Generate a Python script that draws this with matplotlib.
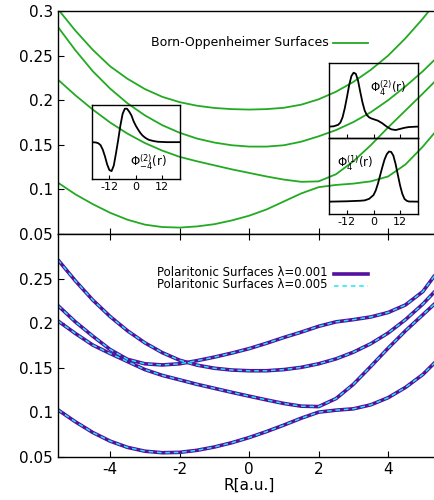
import numpy as np
import matplotlib
matplotlib.use('Agg')
import matplotlib.pyplot as plt

plt.rcParams['axes.unicode_minus'] = False
plt.rcParams['mathtext.default'] = 'regular'

# R grid [a.u.]
R = np.linspace(-5.5, 5.5, 23)

# Born-Oppenheimer surfaces (top panel)
bo1 = [0.302, 0.278, 0.2565, 0.238, 0.224, 0.2125, 0.2038, 0.1978, 0.1938, 0.1913, 0.190, 0.1895,
       0.190, 0.1915, 0.195, 0.201, 0.2095, 0.2205, 0.234, 0.250, 0.2695, 0.2915, 0.316]
bo2 = [0.282, 0.256, 0.2325, 0.213, 0.1965, 0.183, 0.172, 0.1635, 0.157, 0.1525, 0.1495, 0.148,
       0.148, 0.1495, 0.1535, 0.1595, 0.1665, 0.1755, 0.1865, 0.200, 0.2155, 0.2325, 0.2515]
bo3 = [0.223, 0.2055, 0.1895, 0.175, 0.1625, 0.152, 0.1435, 0.1365, 0.1315, 0.127, 0.1225, 0.1185,
       0.1145, 0.111, 0.1085, 0.109, 0.117, 0.1315, 0.1495, 0.1695, 0.1885, 0.2075, 0.227]
bo4 = [0.1075, 0.0945, 0.0835, 0.0738, 0.066, 0.0605, 0.0578, 0.0572, 0.0585, 0.061, 0.0652, 0.0705,
       0.0775, 0.0865, 0.0955, 0.1025, 0.105, 0.1065, 0.109, 0.1145, 0.128, 0.148, 0.171]

# polaritonic surfaces (bottom panel), lambda = 0.001
pol1 = [0.271, 0.2475, 0.226, 0.2075, 0.1915, 0.178, 0.167, 0.1585, 0.153, 0.1495, 0.1475, 0.1467,
        0.1467, 0.148, 0.1505, 0.1545, 0.160, 0.1675, 0.177, 0.189, 0.204, 0.2215, 0.242]
pol2 = [0.2197, 0.2015, 0.1855, 0.1705, 0.1595, 0.1545, 0.1532, 0.1545, 0.158, 0.162, 0.1665, 0.1715,
        0.1775, 0.184, 0.190, 0.1965, 0.2015, 0.204, 0.207, 0.212, 0.2205, 0.2355, 0.262]
pol3 = [0.2025, 0.1885, 0.1755, 0.166, 0.157, 0.148, 0.1415, 0.1365, 0.1315, 0.127, 0.1225, 0.1182,
        0.114, 0.110, 0.107, 0.1065, 0.1155, 0.1315, 0.1515, 0.172, 0.1915, 0.2095, 0.2275]
pol4 = [0.1028, 0.0895, 0.0775, 0.0678, 0.0608, 0.0565, 0.0548, 0.0552, 0.0575, 0.0612, 0.066, 0.0718,
        0.0785, 0.0858, 0.0935, 0.1003, 0.1025, 0.104, 0.1085, 0.1165, 0.128, 0.1425, 0.162]
pol_001 = [pol1, pol2, pol3, pol4]
pol_005 = [pol1, pol2, pol3, pol4]   # indistinguishable from lambda=0.001 at this scale

# electronic wavefunctions for the insets
r_a = [-20, -18, -17, -16, -15, -14, -13, -12, -11, -10, -9, -8, -7, -6, -5, -4, -3, -2, -1,
       0, 1, 2, 3, 4, 5, 6, 8, 10, 14, 20]
phi_m4_2 = [0.0, -0.01, -0.03, -0.08, -0.2, -0.38, -0.6, -0.75, -0.78, -0.63, -0.3, 0.06, 0.45,
            0.76, 0.9, 0.9, 0.82, 0.72, 0.56, 0.44, 0.34, 0.25, 0.18, 0.13, 0.09, 0.06, 0.03,
            0.01, 0.0, 0.0]
r_b = [-20, -18, -16, -15, -14, -13, -12, -11, -10, -9, -8, -7, -6, -5, -4, -3, -2, -1, 0,
       2, 4, 6, 8, 10, 12, 14, 16, 20]
phi_4_2 = [0.156, 0.16, 0.18, 0.21, 0.28, 0.4, 0.55, 0.71, 0.83, 0.875, 0.86, 0.77, 0.62, 0.48,
           0.37, 0.31, 0.28, 0.265, 0.255, 0.235, 0.2, 0.155, 0.12, 0.11, 0.125, 0.14, 0.15, 0.156]
r_c = [-20, -12, -6, -4, -2, 0, 1, 2, 3, 4, 5, 6, 7, 8, 9, 10, 11, 12, 13, 14, 15, 16, 20]
phi_4_1 = [0.163, 0.168, 0.175, 0.18, 0.2, 0.25, 0.31, 0.4, 0.51, 0.62, 0.72, 0.79, 0.825, 0.82,
           0.77, 0.66, 0.52, 0.38, 0.27, 0.2, 0.175, 0.165, 0.163]

green = '#22aa22'
purple = '#54109e'
cyan = '#22e4f2'

W, H = 434, 500
fig = plt.figure(figsize=(W / 100, H / 100), dpi=100)


def px_axes(x0, y0, x1, y1):
    return fig.add_axes([x0 / W, 1 - y1 / H, (x1 - x0) / W, (y1 - y0) / H])


ax1 = px_axes(58, 11, 440.25, 234)
ax2 = px_axes(58, 234, 440.25, 457)

for ax in (ax1, ax2):
    ax.set_xlim(-5.5, 5.5)
    ax.set_ylim(0.05, 0.3)
    ax.set_xticks([-4, -2, 0, 2, 4])
    ax.spines['right'].set_visible(False)
    for s in ax.spines.values():
        s.set_linewidth(1.0)
    ax.tick_params(direction='in', length=4, width=0.8, labelsize=11, right=False)

ax1.set_yticks([0.05, 0.1, 0.15, 0.2, 0.25, 0.3])
ax1.set_yticklabels(['0.05', '0.1', '0.15', '0.2', '0.25', '0.3'])
ax1.tick_params(labelbottom=False, top=False)
ax2.set_yticks([0.05, 0.1, 0.15, 0.2, 0.25])
ax2.set_yticklabels(['0.05', '0.1', '0.15', '0.2', '0.25'])
ax2.tick_params(top=True)
ax2.set_xlabel('R[a.u.]', fontsize=11, labelpad=1)

for y in (bo1, bo2, bo3, bo4):
    ax1.plot(R, y, color=green, lw=1.3)
for y in pol_001:
    ax2.plot(R, y, color=purple, lw=2.6, solid_capstyle='butt')
for y in pol_005:
    ax2.plot(R, y, color=cyan, lw=1.1, dashes=(3, 2.5))

# legends
fig.text(328.3 / W, 1 - 42.7 / H, 'Born-Oppenheimer Surfaces', ha='right', va='center', fontsize=9)
fig.add_artist(plt.Line2D([333 / W, 368 / W], [1 - 42.7 / H] * 2, color=green, lw=1.3))
fig.text(327.3 / W, 1 - 273 / H, 'Polaritonic Surfaces λ=0.001', ha='right', va='center', fontsize=8.5)
fig.add_artist(plt.Line2D([334 / W, 368 / W], [1 - 273.5 / H] * 2, color=purple, lw=2.6))
fig.text(327.3 / W, 1 - 285 / H, 'Polaritonic Surfaces λ=0.005', ha='right', va='center', fontsize=8.5)
fig.add_artist(plt.Line2D([334 / W, 368 / W], [1 - 285.5 / H] * 2, color=cyan, lw=1.1, dashes=(3, 2.5)))

# insets
in1 = px_axes(91.7, 105, 180, 179.3)
in2 = px_axes(329.3, 63.3, 417.7, 138.3)
in3 = px_axes(329.3, 138.3, 417.7, 214)
for ax, r, phi, ylim in ((in1, r_a, phi_m4_2, (-1, 1)), (in2, r_b, phi_4_2, (0, 1)),
                         (in3, r_c, phi_4_1, (0, 1))):
    ax.set_facecolor('none')
    ax.plot(r, phi, color='black', lw=1.3)
    ax.set_xlim(-20, 20)
    ax.set_ylim(*ylim)
    ax.set_xticks([-12, 0, 12])
    ax.set_yticks([])
    ax.tick_params(direction='in', length=3, width=0.8, labelsize=8, pad=2)
    for s in ax.spines.values():
        s.set_linewidth(1.0)
in2.tick_params(labelbottom=False)

in1.text(0.645, 0.23, r'$\Phi_{-4}^{(2)}$(r)', transform=in1.transAxes, ha='center', va='center', fontsize=8.5)
in2.text(0.67, 0.67, r'$\Phi_{4}^{(2)}$(r)', transform=in2.transAxes, ha='center', va='center', fontsize=8.5)
in3.text(0.29, 0.67, r'$\Phi_{4}^{(1)}$(r)', transform=in3.transAxes, ha='center', va='center', fontsize=8.5)

fig.savefig('out.png', dpi=100)
